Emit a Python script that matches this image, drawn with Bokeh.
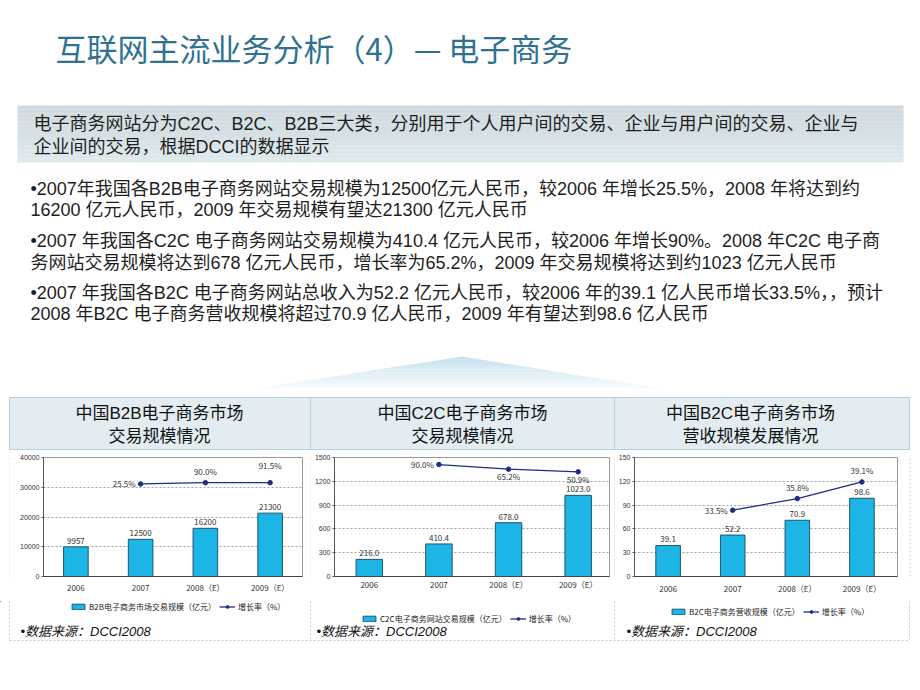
from bokeh.plotting import figure
from bokeh.models import Range1d, FixedTicker, Legend, LegendItem, ColumnDataSource
from bokeh.layouts import column, row
from bokeh.embed import file_html
from bokeh.resources import INLINE
from bokeh.core.properties import value

FONT = "Noto Sans CJK SC"
MIXED = "Liberation Sans, Noto Sans CJK SC"

# ---------------- data / texts ----------------
slide_title = "互联网主流业务分析（4）— 电子商务"
intro_lines = [
    "电子商务网站分为C2C、B2C、B2B三大类，分别用于个人用户间的交易、企业与用户间的交易、企业与",
    "企业间的交易，根据DCCI的数据显示",
]
bullet_lines = [
    "•2007年我国各B2B电子商务网站交易规模为12500亿元人民币，较2006 年增长25.5%，2008 年将达到约",
    "16200 亿元人民币，2009 年交易规模有望达21300 亿元人民币",
    "•2007 年我国各C2C 电子商务网站交易规模为410.4 亿元人民币，较2006 年增长90%。2008 年C2C 电子商",
    "务网站交易规模将达到678 亿元人民币，增长率为65.2%，2009 年交易规模将达到约1023 亿元人民币",
    "•2007 年我国各B2C 电子商务网站总收入为52.2 亿元人民币，较2006 年的39.1 亿人民币增长33.5%，，预计",
    "2008 年B2C 电子商务营收规模将超过70.9 亿人民币，2009 年有望达到98.6 亿人民币",
]
source_note = "•数据来源：DCCI2008"
growth_name = "增长率（%）"

years = ["2006", "2007", "2008（E）", "2009（E）"]
growth_years = ["2007", "2008（E）", "2009（E）"]

b2b_title = ["中国B2B电子商务市场", "交易规模情况"]
b2b_name = "B2B电子商务市场交易规模（亿元）"
b2b_values = [9957, 12500, 16200, 21300]
b2b_labels = ["9957", "12500", "16200", "21300"]
b2b_growth = [25.5, 90.0, 91.5]
b2b_yticks = [0, 10000, 20000, 30000, 40000]

c2c_title = ["中国C2C电子商务市场", "交易规模情况"]
c2c_name = "C2C电子商务网站交易规模（亿元）"
c2c_values = [216.0, 410.4, 678.0, 1023.0]
c2c_labels = ["216.0", "410.4", "678.0", "1023.0"]
c2c_growth = [90.0, 65.2, 50.9]
c2c_yticks = [0, 300, 600, 900, 1200, 1500]

b2c_title = ["中国B2C电子商务市场", "营收规模发展情况"]
b2c_name = "B2C电子商务营收规模（亿元）"
b2c_values = [39.1, 52.2, 70.9, 98.6]
b2c_labels = ["39.1", "52.2", "70.9", "98.6"]
b2c_growth = [33.5, 35.8, 39.1]
b2c_yticks = [0, 30, 60, 90, 120, 150]

# ---------------- colours ----------------
TITLE_C = "#2F7190"
TEXT_C = "#1e1e1e"
BAR_FILL = "#1DB4E6"
BAR_LINE = "#1D5670"
LINE_C = "#1F2C84"
BORDER_C = "#B8CEDB"


def mix(c1, c2, t):
    a = [int(c1[i:i + 2], 16) for i in (1, 3, 5)]
    b = [int(c2[i:i + 2], 16) for i in (1, 3, 5)]
    return "#%02x%02x%02x" % tuple(int(round(a[k] + (b[k] - a[k]) * t)) for k in range(3))


# ---------------- header (slide top) ----------------
W = 920
HEAD_H = 450
ROW_H = 151
FOOT_H = 690 - HEAD_H - ROW_H

head = figure(width=W, height=HEAD_H, output_backend="svg", toolbar_location=None,
              x_range=Range1d(0, 920), y_range=Range1d(HEAD_H, 0),
              min_border=0, outline_line_color=None)
head.axis.visible = False
head.grid.visible = False

head.text(x=[55], y=[47], text=[slide_title], text_font=value(FONT),
          text_font_size="31px", text_color=TITLE_C, text_baseline="middle")

# grey-blue intro box with vertical gradient
n = 14
tops = [105 + (162 - 105) * i / n for i in range(n)]
bots = [105 + (162 - 105) * (i + 1) / n for i in range(n)]
cols = [mix("#CFD9DE", "#DCE8EC", i / (n - 1)) for i in range(n)]
head.quad(left=17, right=903, top=tops, bottom=bots, fill_color=cols, line_color=None)
head.text(x=[33, 33], y=[123, 146], text=intro_lines, text_font=value(MIXED),
          text_font_size="18px", text_color=TEXT_C, text_baseline="middle")

head.text(x=[30] * 6, y=[188, 209, 240, 262, 292, 313], text=bullet_lines,
          text_font=value(MIXED), text_font_size="18px", text_color=TEXT_C,
          text_baseline="middle")

# pale "roof" decoration
m = 10
for i in range(m):
    t0 = i / m
    t1 = (i + 1) / m
    ay, by = 356, 388
    ax, lx, rx = 462, 255, 660
    y0 = ay + (by - ay) * t0
    y1 = ay + (by - ay) * t1
    xs = [ax + (lx - ax) * t0, ax + (rx - ax) * t0, ax + (rx - ax) * t1, ax + (lx - ax) * t1]
    head.patch(x=xs, y=[y0, y0, y1, y1], fill_color=mix("#C4DFEE", "#F6FAFC", t1),
               line_color=None)

# chart panel headers
panel_x = [(9, 310), (310, 614), (614, 909)]
panel_cx = [159, 462, 750]
for (l, r) in panel_x:
    head.quad(left=l, right=r, top=397, bottom=449, fill_color="#E3ECF1",
              line_color=BORDER_C, line_width=1)
for cx, ttl in zip(panel_cx, [b2b_title, c2c_title, b2c_title]):
    head.text(x=[cx, cx], y=[413, 436], text=ttl, text_font=value(MIXED),
              text_font_size="17px", text_color="#111111", text_align="center",
              text_baseline="middle")


# ---------------- charts ----------------
def make_chart(b_left, f_width, b_right, b_top, frame_h, xr, yticks, g_range,
               values, labels, growth, g_place, std_off):
    p = figure(width=b_left + f_width + b_right, height=ROW_H,
               output_backend="svg", toolbar_location=None,
               x_range=Range1d(*xr), y_range=Range1d(yticks[0], yticks[-1]),
               min_border_left=b_left, min_border_right=b_right,
               min_border_top=b_top, min_border_bottom=ROW_H - b_top - frame_h,
               outline_line_color="#9a9a9a", background_fill_color="white")
    p.extra_y_ranges = {"g": Range1d(*g_range)}
    idx = list(range(len(years)))
    gidx = [years.index(y) for y in growth_years]

    p.vbar(x=idx, top=values, width=0.38, fill_color=BAR_FILL,
           line_color=BAR_LINE, line_width=1)
    p.text(x=idx, y=values, text=labels, y_offset=-3, text_align="center",
           text_baseline="bottom", text_font=value(FONT), text_font_size="8px",
           text_color="#333333")

    p.line(x=gidx, y=growth, y_range_name="g", line_color=LINE_C, line_width=1.3)
    p.scatter(x=gidx, y=growth, y_range_name="g", size=4.5, marker="circle",
              fill_color=LINE_C, line_color=LINE_C)
    offs = {"left": (-5, 0, "right", "middle"),
            "above": (0, -6, "center", "bottom"),
            "above2": (0, -12, "center", "bottom"),
            "below": (0, 2, "center", "top")}
    src = ColumnDataSource(dict(
        x=gidx, y=growth, t=["%.1f%%" % v for v in growth],
        xo=[offs[k][0] for k in g_place], yo=[offs[k][1] for k in g_place],
        al=[offs[k][2] for k in g_place], bl=[offs[k][3] for k in g_place]))
    p.text(x="x", y="y", text="t", x_offset="xo", y_offset="yo", text_align="al",
           text_baseline="bl", source=src, y_range_name="g", text_font=value(FONT),
           text_font_size="8px", text_color="#333333")

    p.xgrid.visible = False
    p.ygrid.ticker = FixedTicker(ticks=yticks)
    p.ygrid.grid_line_color = "#a0a0a0"
    p.ygrid.grid_line_dash = "2 2"

    p.yaxis.ticker = FixedTicker(ticks=yticks)
    p.yaxis.major_label_text_font_size = "7px"
    p.yaxis.major_label_text_color = "#333333"
    p.yaxis.major_label_standoff = 2
    p.yaxis.major_tick_out = 2
    p.yaxis.major_tick_in = 0
    p.yaxis.minor_tick_line_color = None
    p.yaxis.axis_line_color = "#555555"
    p.yaxis.major_tick_line_color = "#555555"

    p.xaxis.ticker = FixedTicker(ticks=idx)
    p.xaxis.major_label_overrides = {i: y for i, y in zip(idx, years)}
    p.xaxis.major_label_text_font = FONT
    p.xaxis.major_label_text_font_size = "8px"
    p.xaxis.major_label_text_color = "#333333"
    p.xaxis.major_label_standoff = std_off
    p.xaxis.major_tick_out = 0
    p.xaxis.major_tick_in = 0
    p.xaxis.minor_tick_line_color = None
    p.xaxis.axis_line_color = "#444444"
    return p


def border_strip(width, line_x):
    s = figure(width=width, height=ROW_H, output_backend="svg", toolbar_location=None,
               x_range=Range1d(0, width), y_range=Range1d(0, ROW_H),
               min_border=0, outline_line_color=None)
    s.axis.visible = False
    s.grid.visible = False
    s.segment(x0=[line_x], y0=[0], x1=[line_x], y1=[ROW_H], line_color=BORDER_C,
              line_dash="2 2", line_width=1)
    return s


c1 = make_chart(33, 259, 7, 7, 119, (-0.5, 3.5), b2b_yticks, (-4640, 1360),
                b2b_values, b2b_labels, b2b_growth, ["left", "above", "above2"], 5)
c2 = make_chart(21, 277, 4, 5, 131, (-0.5, 3.45), c2c_yticks, (-513, 128),
                c2c_values, c2c_labels, c2c_growth, ["left", "below", "below"], 2)
c3 = make_chart(16, 266, 11, 7, 122, (-0.52, 3.55), b2c_yticks, (20.35, 43.95),
                b2c_values, b2c_labels, b2c_growth, ["left", "above", "above"], 6)

chart_row = row(border_strip(10, 9.5), c1, border_strip(2, 1.5), c2,
                border_strip(2, 1.5), c3, border_strip(12, 1.5))

# ---------------- footer: legends, sources, panel borders ----------------
top_y = HEAD_H + ROW_H
foot = figure(width=W, height=FOOT_H, output_backend="svg", toolbar_location=None,
              x_range=Range1d(0, 920), y_range=Range1d(690, top_y),
              min_border=0, outline_line_color=None)
foot.axis.visible = False
foot.grid.visible = False

legend_specs = [(b2b_name, (70, 78)), (c2c_name, (361, 66)), (b2c_name, (670, 73))]
for name, loc in legend_specs:
    # legend-only renderers, parked outside the visible footer area
    bar_r = foot.vbar(x=[-500], top=[-500], bottom=[-501], width=1, fill_color=BAR_FILL,
                      line_color=BAR_LINE, line_width=1)
    ln_r = foot.line(x=[-500, -499], y=[-500, -500], line_color=LINE_C, line_width=1.3)
    pt_r = foot.scatter(x=[-500], y=[-500], size=4.5, marker="circle",
                        fill_color=LINE_C, line_color=LINE_C)
    leg = Legend(items=[LegendItem(label=name, renderers=[bar_r]),
                        LegendItem(label=growth_name, renderers=[ln_r, pt_r])],
                 orientation="horizontal", location=loc,
                 label_text_font=FONT, label_text_font_size="8px",
                 label_text_color="#222222", glyph_width=16, glyph_height=7,
                 label_standoff=3, spacing=3, padding=2, margin=0,
                 label_height=9, label_width=10,
                 border_line_color=None, background_fill_alpha=0)
    foot.add_layout(leg, "center")

foot.text(x=[20, 316, 626], y=[631] * 3, text=[source_note] * 3, text_font=value(MIXED),
          text_font_size="13px", text_font_style="italic", text_color="#111111",
          text_baseline="middle")
foot.multi_line(xs=[[9, 909], [9, 9], [310, 310], [614, 614], [909, 909]],
                ys=[[640, 640], [top_y, 640], [top_y, 640], [top_y, 640], [top_y, 640]],
                line_color=BORDER_C, line_dash="2 2", line_width=1)

layout = column(head, chart_row, foot)
open("out.html", "w").write(file_html(layout, INLINE))
